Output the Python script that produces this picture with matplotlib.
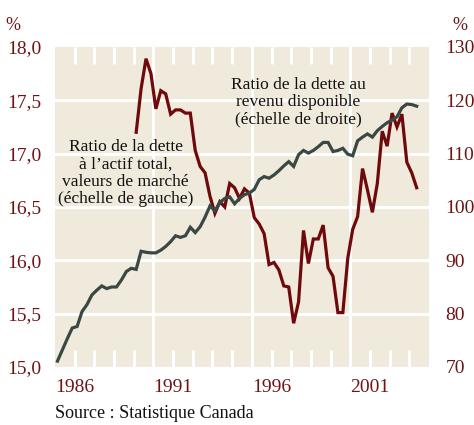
import matplotlib
matplotlib.use("Agg")
import matplotlib.pyplot as plt
from matplotlib.transforms import blended_transform_factory
import numpy as np

plt.rcParams['font.family'] = ['Liberation Serif', 'DejaVu Serif']

# Ratio de la dette au revenu disponible (échelle de droite), trimestriel
income_start = 1985.125
debt_income = [
    71.1, 73.2, 75.3, 77.3, 77.6, 80.4, 81.7, 83.5, 84.4, 85.2,
    84.7, 85.0, 85.0, 86.3, 87.9, 88.5, 88.3, 91.7, 91.5, 91.4,
    91.4, 91.9, 92.6, 93.5, 94.6, 94.3, 94.6, 96.2, 95.2, 96.3,
    98.1, 100.2, 99.3, 100.8, 101.6, 101.9, 100.6, 101.6, 102.3, 102.6,
    103.3, 105.1, 105.7, 105.4, 106.0, 106.8, 107.7, 108.5, 107.6, 109.8,
    110.6, 110.1, 110.6, 111.3, 112.1, 112.1, 110.4, 110.6, 111.0, 109.9,
    109.6, 112.4, 113.1, 113.7, 113.1, 114.3, 115.1, 115.8, 116.3, 116.9,
    118.6, 119.3, 119.2, 118.9,
]

# Ratio de la dette à l'actif total, valeurs de marché (échelle de gauche)
assets_start = 1989.125
debt_assets = [
    17.20, 17.61, 17.89, 17.75, 17.42, 17.59, 17.56, 17.37, 17.41, 17.41,
    17.38, 17.38, 17.03, 16.88, 16.82, 16.60, 16.44, 16.55, 16.50, 16.72,
    16.68, 16.58, 16.67, 16.63, 16.40, 16.34, 16.25, 15.96, 15.98, 15.91,
    15.76, 15.75, 15.41, 15.61, 16.28, 15.97, 16.20, 16.20, 16.33, 15.93,
    15.85, 15.51, 15.51, 16.02, 16.29, 16.41, 16.86, 16.66, 16.45, 16.72,
    17.21, 17.07, 17.38, 17.25, 17.37, 16.92, 16.82, 16.68,
]

left_ticks = [15.0, 15.5, 16.0, 16.5, 17.0, 17.5, 18.0]
right_ticks = [70, 80, 90, 100, 110, 120, 130]
label_years = [1986, 1991, 1996, 2001]
grid_years = [1990, 1995, 2000]
tick_years = list(range(1986, 2004))

maroon = '#6e0a0c'
slate = '#3a4845'
bg = '#efeadb'
label_color = '#6e1416'

t_income = income_start + 0.25 * np.arange(len(debt_income))
t_assets = assets_start + 0.25 * np.arange(len(debt_assets))

fig = plt.figure(figsize=(4.74, 4.25), dpi=100)
ax = fig.add_axes([0.116, 0.1365, 0.789, 0.753])
ax2 = ax.twinx()

# fond, grille et repères sur l'axe de gauche (dessous)
ax.set_facecolor(bg)
ax.set_xlim(1985, 2004)
ax.set_ylim(15, 18)
ax2.set_ylim(70, 130)
for v in left_ticks[1:-1]:
    ax.axhline(v, color='white', lw=2.2, zorder=1)
for yr in grid_years:
    ax.axvline(yr, color='white', lw=2.2, zorder=1)
tr = blended_transform_factory(ax.transData, ax.transAxes)
ax.vlines(tick_years, 0, 0.052, color='white', lw=2.2, transform=tr, zorder=1)
ax.vlines(tick_years, 0.948, 1, color='white', lw=2.2, transform=tr, zorder=1)

ax.plot(t_assets, debt_assets, color=maroon, lw=2.3, zorder=3,
        solid_joinstyle='miter')
ax2.plot(t_income, debt_income, color=slate, lw=2.3, zorder=3,
         solid_joinstyle='miter')

ax.set_yticks(left_ticks)
ax.set_yticklabels([f"{v:.1f}".replace('.', ',') for v in left_ticks])
ax2.set_yticks(right_ticks)
ax2.set_yticklabels([str(v) for v in right_ticks])
ax.set_xticks(label_years)
ax.set_xticklabels([str(y) for y in label_years])

ax.tick_params(axis='y', length=0, pad=10, labelsize=14, labelcolor=label_color)
ax2.tick_params(axis='y', length=0, pad=12, labelsize=14, labelcolor=label_color)
ax.tick_params(axis='x', length=0, pad=9, labelsize=14, labelcolor=label_color)

for a in (ax, ax2):
    for s in a.spines.values():
        s.set_visible(False)

ax.text(0.65, 0.828, "Ratio de la dette au\nrevenu disponible\n(échelle de droite)",
        transform=ax.transAxes, ha='center', va='center', fontsize=12.5,
        linespacing=1.1, color='#111111', zorder=5)
ax.text(0.189, 0.606, "Ratio de la dette\nà l’actif total,\nvaleurs de marché\n(échelle de gauche)",
        transform=ax.transAxes, ha='center', va='center', fontsize=12.5,
        linespacing=1.1, color='#111111', zorder=5)

fig.text(13 / 474, 1 - 25 / 425, "%", ha='center', va='center', fontsize=13, color=label_color)
fig.text(460 / 474, 1 - 25 / 425, "%", ha='center', va='center', fontsize=13, color=label_color)
fig.text(55 / 474, 1 - 413 / 425, "Source : Statistique Canada", ha='left', va='center',
         fontsize=13, color='#111111')

fig.savefig("out.png", dpi=100, facecolor='white')
